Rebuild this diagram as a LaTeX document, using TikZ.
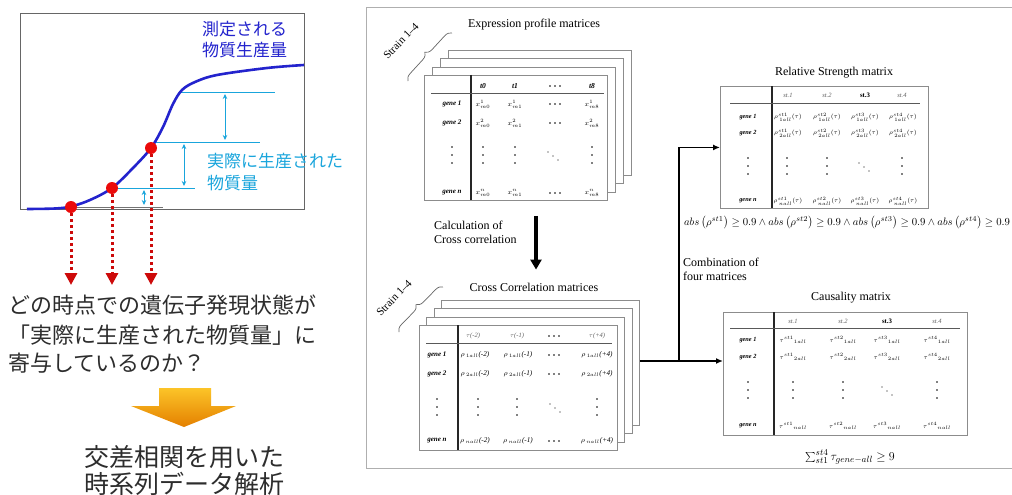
\documentclass[tikz,border=0pt]{standalone}
\usepackage{fontspec}
\usepackage{graphicx}
\setmainfont{Liberation Serif}
\newfontfamily\jpfont{Noto Sans CJK JP}
\usetikzlibrary{arrows.meta,decorations.pathreplacing,calc}
\definecolor{curveblue}{RGB}{35,35,205}
\definecolor{lightcyan}{RGB}{25,165,220}
\definecolor{dotred}{RGB}{235,10,10}
\definecolor{dotline}{RGB}{205,10,10}
\definecolor{jtext}{RGB}{45,45,45}
\definecolor{framegray}{RGB}{140,140,140}
\definecolor{panelgray}{RGB}{175,175,175}
\definecolor{arrtop}{RGB}{252,196,40}
\definecolor{arrbot}{RGB}{228,128,0}
\definecolor{hdgray}{RGB}{95,95,95}
\newcommand{\myvdots}[2]{\fill (#1,#2-8) circle (0.8pt) (#1,#2) circle (0.8pt) (#1,#2+8) circle (0.8pt);}
\newcommand{\mydiagdots}[2]{\fill (#1-5,#2-4) circle (0.7pt) (#1,#2) circle (0.7pt) (#1+5,#2+4) circle (0.7pt);}
\newcommand{\myhdots}[2]{\fill (#1-5,#2) circle (0.9pt) (#1,#2) circle (0.9pt) (#1+5,#2) circle (0.9pt);}
\tikzset{
  frame/.style={draw=framegray, fill=white, line width=0.9pt, anchor=north west, inner sep=0pt},
  cell/.style={font=\fontsize{7.2}{8}\selectfont, inner sep=0pt},
  smallcell/.style={font=\fontsize{6}{7}\selectfont, inner sep=0pt},
  rowlab/.style={font=\fontsize{7}{8}\selectfont\bfseries\itshape, inner sep=0pt},
  smallrowlab/.style={font=\fontsize{6.3}{7}\selectfont\bfseries\itshape, inner sep=0pt},
  hdr/.style={font=\fontsize{7.5}{8}\selectfont\bfseries\itshape, inner sep=0pt},
  lighthdr/.style={font=\fontsize{6.5}{8}\selectfont\itshape, text=hdgray, inner sep=0pt},
  sepline/.style={line width=1.4pt, draw=black!85},
  hline/.style={line width=0.6pt, draw=black!65},
  title/.style={font=\fontsize{12}{14}\selectfont, inner sep=0pt},
  lbl/.style={font=\fontsize{12}{14}\selectfont, inner sep=0pt, anchor=west},
  conn/.style={line width=1.6pt, draw=black, -{Latex[length=7pt,width=6pt]}},
  jp/.style={font=\jpfont\fontsize{22}{24}\selectfont, text=jtext, inner sep=0pt},
  reddot/.style={circle, fill=dotred, minimum size=12pt, inner sep=0pt},
  reddash/.style={draw=dotline, line width=3pt, dash pattern=on 3pt off 3pt, -{Triangle[length=12pt,width=12pt]}},
  cyanarrow/.style={draw=lightcyan, line width=0.8pt, {Stealth[length=5pt,width=4.5pt]}-{Stealth[length=5pt,width=4.5pt]}},
  strainbrace/.style={draw=black!60, line width=0.7pt, decorate, decoration={brace, amplitude=7pt}},
  strain/.style={font=\fontsize{11}{12}\selectfont, rotate=46, inner sep=0pt}
}
\begin{document}
\begin{tikzpicture}[x=1pt,y=-1pt]
\useasboundingbox (0,0) rectangle (1012,495);
\fill[white] (0,0) rectangle (1012,495);

% ---------------- left graph ----------------
\draw[black!60, line width=0.9pt] (20,13) rectangle (304,209);
\draw[lightcyan, line width=0.8pt] (180,92) -- (275,92);
\draw[lightcyan, line width=0.8pt] (155,142) -- (260,142);
\draw[lightcyan, line width=0.8pt] (115,188) -- (195,188);
\draw[black!55, line width=0.8pt] (70,207) -- (163,207);
\draw[cyanarrow] (225,94) -- (225,140);
\draw[cyanarrow] (184,144) -- (184,186);
\draw[cyanarrow] (144,190) -- (144,205);
\draw[curveblue, line width=2.6pt] plot[smooth, tension=0.55] coordinates {(27,209) (55,208.5) (71,206.5) (90,200) (112,188) (133,168) (151,148) (163,127) (173,104) (182,90) (195,82) (217,75) (267,68) (304,65)};

\node[reddot] (d1) at (71,207) {};
\node[reddot] (d2) at (112,188) {};
\node[reddot] (d3) at (151,148) {};
\coordinate (t1) at (71,285);
\coordinate (t2) at (112,285);
\coordinate (t3) at (151,285);
\draw[reddash] (d1.south) -- (t1);
\draw[reddash] (d2.south) -- (t2);
\draw[reddash] (d3.south) -- (t3);

\node[font=\jpfont\fontsize{17}{21}\selectfont, text=curveblue, align=left, anchor=north west, inner sep=0pt] (meas) at (202,21) {測定される\\物質生産量};
\node[font=\jpfont\fontsize{17}{22}\selectfont, text=lightcyan, align=left, anchor=north west, inner sep=0pt] (act) at (207,153) {実際に生産された\\物質量};

\node[jp, anchor=west] (q1) at (8,305) {どの時点での遺伝子発現状態が};
\node[jp, anchor=west] (q2) at (8,335) {「実際に生産された物質量」に};
\node[jp, anchor=west] (q3) at (8,363) {寄与しているのか？};

\shade[top color=arrtop, bottom color=arrbot] (159,388) -- (211,388) -- (211,406) -- (236,406) -- (184,427) -- (131,406) -- (159,406) -- cycle;

\node[font=\jpfont\fontsize{25}{27}\selectfont, text=jtext, inner sep=0pt] (a1) at (184,457) {交差相関を用いた};
\node[font=\jpfont\fontsize{25}{27}\selectfont, text=jtext, inner sep=0pt] (a2) at (184,484) {時系列データ解析};

% ---------------- right panel ----------------
\draw[panelgray, line width=0.9pt] (1012,7) -- (366,7) -- (366,468) -- (1012,468);

% Expression profile matrices
\node[title] (et) at (534,25) {Expression profile matrices};
\node[strain] (s1) at (401,41) {Strain 1--4};
\draw[strainbrace] (408,81) -- (452,33);
\node[frame, minimum width=183pt, minimum height=125pt] (E4) at (448,50) {};
\node[frame, minimum width=183pt, minimum height=125pt] (E3) at (440,58.4) {};
\node[frame, minimum width=183pt, minimum height=125pt] (E2) at (432,66.7) {};
\node[frame, minimum width=183pt, minimum height=125pt] (E) at (424,75) {};
\draw[sepline] (471,75) -- (471,200);
\draw[hline] (431,93) -- (604,93);
\node[hdr] (eh1) at (483,86) {t0};
\node[hdr] (eh2) at (515,86) {t1};
\myhdots{555}{86}
\node[hdr] (eh4) at (592,86) {t8};
\foreach \r/\y/\s in {1/104/1, 2/123/2, n/193/n} {
  \node[rowlab] (e-\r-0) at (452,\y) {gene \s};
  \node[cell] (e-\r-1) at (483,\y) {$x^{\s}_{m0}$};
  \node[cell] (e-\r-2) at (515,\y) {$x^{\s}_{m1}$};
  \myhdots{555}{\y}
  \node[cell] (e-\r-4) at (592,\y) {$x^{\s}_{m8}$};
}
\myvdots{452}{155}
\myvdots{483}{155}
\myvdots{515}{155}
\mydiagdots{553}{156}
\myvdots{592}{155}

% calculation arrow
\node[lbl, align=left, anchor=north west] (calc) at (434,221) {Calculation of\\Cross correlation};
\node[title] (ct) at (534,287) {Cross Correlation matrices};
\draw[line width=3.2pt, -{Triangle[length=10pt,width=11pt]}] ($(et |- E.south)+(2,15)$) -- ($(ct.north)+(2,-13)$);

% Cross correlation matrices
\node[strain] (s2) at (394,298) {Strain 1--4};
\draw[strainbrace] (399,332) -- (443,287);
\node[frame, minimum width=198pt, minimum height=125pt] (C4) at (441,300) {};
\node[frame, minimum width=198pt, minimum height=125pt] (C3) at (433.6,308.4) {};
\node[frame, minimum width=198pt, minimum height=125pt] (C2) at (426.3,316.7) {};
\node[frame, minimum width=198pt, minimum height=125pt] (C) at (419,325) {};
\draw[sepline] (458,325) -- (458,450);
\draw[hline] (426,343) -- (612,343);
\node[lighthdr] (ch1) at (473,336) {$\tau$(-2)};
\node[lighthdr] (ch2) at (517,336) {$\tau$(-1)};
\myhdots{554}{336}
\node[lighthdr] (ch4) at (597,336) {$\tau$(+4)};
\foreach \r/\y/\s in {1/355/1, 2/374/2, n/441/n} {
  \node[rowlab] (c-\r-0) at (437,\y) {gene \s};
  \node[cell] (c-\r-1) at (475,\y) {$\rho_{\,\s all}$\textit{(-2)}};
  \node[cell] (c-\r-2) at (518,\y) {$\rho_{\,\s all}$\textit{(-1)}};
  \myhdots{554}{\y}
  \node[cell] (c-\r-4) at (597,\y) {$\rho_{\,\s all}$\textit{(+4)}};
}
\myvdots{437}{407}
\myvdots{478}{407}
\myvdots{517}{407}
\mydiagdots{555}{408}
\myvdots{597}{407}

% Relative strength matrix
\node[title] (rt) at (834,73) {Relative Strength matrix};
\node[frame, minimum width=208pt, minimum height=122pt] (R) at (720,86) {};
\draw[sepline] (772,86) -- (772,208);
\draw[hline] (730,103) -- (920,103);
\node[lighthdr] (rh1) at (788,95) {st.1};
\node[lighthdr] (rh2) at (827,95) {st.2};
\node[hdr, font=\fontsize{6.8}{8}\selectfont\bfseries] (rh3) at (865,95) {st.3};
\node[lighthdr] (rh4) at (902,95) {st.4};
\foreach \r/\y/\s in {1/117/1, 2/133/2, n/201/n} {
  \node[smallrowlab] (r-\r-0) at (748,\y) {gene \s};
  \node[smallcell] (r-\r-1) at (788,\y) {$\rho^{st1}_{\,\s all}(\tau)$};
  \node[smallcell] (r-\r-2) at (827,\y) {$\rho^{st2}_{\,\s all}(\tau)$};
  \node[smallcell] (r-\r-3) at (865,\y) {$\rho^{st3}_{\,\s all}(\tau)$};
  \node[smallcell] (r-\r-4) at (903,\y) {$\rho^{st4}_{\,\s all}(\tau)$};
}
\myvdots{748}{166}
\myvdots{787}{166}
\myvdots{827}{166}
\mydiagdots{864}{167}
\myvdots{902}{166}
\node[inner sep=0pt] (rf) at (847,223) {\resizebox{326pt}{!}{$abs\left(\rho^{st1}\right)\geq 0.9\wedge abs\left(\rho^{st2}\right)\geq 0.9\wedge abs\left(\rho^{st3}\right)\geq 0.9\wedge abs\left(\rho^{st4}\right)\geq 0.9$}};

% Causality matrix
\node[title] (kt) at (851,298) {Causality matrix};
\node[frame, minimum width=244pt, minimum height=123pt] (K) at (723,312) {};
\draw[sepline] (774,312) -- (774,435);
\draw[hline] (730,328) -- (960,328);
\node[lighthdr] (kh1) at (793,321) {st.1};
\node[lighthdr] (kh2) at (843,321) {st.2};
\node[hdr, font=\fontsize{6.8}{8}\selectfont\bfseries] (kh3) at (887,321) {st.3};
\node[lighthdr] (kh4) at (937,321) {st.4};
\foreach \r/\y/\s in {1/340/1, 2/357/2, n/426/n} {
  \node[smallrowlab] (k-\r-0) at (748,\y) {gene \s};
  \node[smallcell] (k-\r-1) at (793,\y) {$\tau^{st1}{}_{\s all}$};
  \node[smallcell] (k-\r-2) at (843,\y) {$\tau^{st2}{}_{\s all}$};
  \node[smallcell] (k-\r-3) at (887,\y) {$\tau^{st3}{}_{\s all}$};
  \node[smallcell] (k-\r-4) at (937,\y) {$\tau^{st4}{}_{\s all}$};
}
\myvdots{748}{390}
\myvdots{793}{390}
\myvdots{843}{390}
\mydiagdots{887}{391}
\myvdots{937}{390}
\node[inner sep=0pt, font=\fontsize{13}{15}\selectfont] (kf) at (850,457) {$\textstyle\sum_{st1}^{st4}\tau_{gene-all}\geq 9$};

% combination connectors
\node[lbl, align=left, anchor=north west] (comb) at (683,258) {Combination of\\four matrices};
\coordinate (jn) at (679,361);
\draw[conn] (C4.east |- jn) -- (jn) |- (R.west);
\draw[conn] (jn) -- (K.west |- jn);
\end{tikzpicture}
\end{document}
